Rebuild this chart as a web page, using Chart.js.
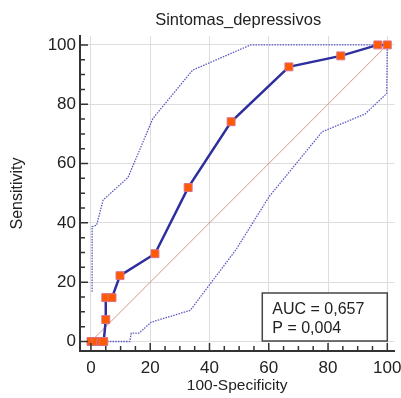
<!DOCTYPE html>
<html>
<head>
<meta charset="utf-8">
<script src="https://cdn.jsdelivr.net/npm/chart.js@4"></script>
<style>
  html, body { margin: 0; padding: 0; background: #fff; overflow: hidden; }
  #wrap { width: 401px; height: 398px; position: relative; }
  canvas { display: block; }
</style>
</head>
<body>
<div id="wrap"><canvas id="myChart"></canvas></div>
<script>
// ROC curve points (100-Specificity, Sensitivity)
const rocX = [0, 1.7, 3.3, 4.3, 5.0, 5.0, 7.1, 9.8, 21.6, 32.8, 47.3, 66.8, 84.3, 96.8, 100];
const rocY = [0, 0, 0, 0, 7.4, 14.8, 14.8, 22.2, 29.6, 51.9, 74.1, 92.6, 96.3, 100, 100];

// confidence bounds
const upperX = [0.4, 0.4, 1.9, 4.1, 12.5, 20.9, 34.3, 53.9, 100];
const upperY = [16.8, 38.7, 39.2, 47.7, 55.3, 75.2, 91.5, 100, 100];
const lowerX = [0, 13.1, 13.6, 16.2, 20.3, 33.5, 48.9, 60.1, 78, 92.5, 99.8, 100];
const lowerY = [0, 0, 2.8, 2.8, 6.5, 10.5, 30.9, 48.8, 70.7, 76.7, 83.6, 100];

const diagX = [0, 100];
const diagY = [0, 100];

const tickValues = [0, 5, 10, 15, 20, 25, 30, 35, 40, 45, 50, 55, 60, 65, 70, 75, 80, 85, 90, 95, 100];
const chartTitle = "Sintomas_depressivos";
const xTitle = "100-Specificity";
const yTitle = "Sensitivity";
const statsLines = ["AUC = 0,657", "P = 0,004"];

const FONT = "'Liberation Sans', Arial, sans-serif";

const toPoints = (xs, ys) => xs.map((x, i) => ({ x: x, y: ys[i] }));

const setTicks = (scale) => {
  scale.ticks = tickValues.map(v => ({ value: v, major: v % 20 === 0 }));
};

// title centred over the plot area
const titlePlugin = {
  id: "plotTitle",
  afterDraw(chart) {
    const { ctx, chartArea } = chart;
    ctx.save();
    ctx.font = "16.5px " + FONT;
    ctx.fillStyle = "#222";
    ctx.textAlign = "center";
    ctx.textBaseline = "middle";
    ctx.fillText(chartTitle, (chartArea.left + chartArea.right) / 2 + 1, 20);
    ctx.restore();
  }
};

// inward tick marks on both axes
const tickMarks = {
  id: "tickMarks",
  afterDraw(chart) {
    const { ctx, chartArea, scales } = chart;
    ctx.save();
    ctx.strokeStyle = "#333";
    ctx.lineWidth = 1.5;
    ctx.beginPath();
    tickValues.forEach(v => {
      const len = v % 20 === 0 ? 8 : 5;
      const px = scales.x.getPixelForValue(v);
      ctx.moveTo(px, chartArea.bottom);
      ctx.lineTo(px, chartArea.bottom - len);
      const py = scales.y.getPixelForValue(v);
      ctx.moveTo(chartArea.left, py);
      ctx.lineTo(chartArea.left + len, py);
    });
    ctx.stroke();
    ctx.restore();
  }
};

// AUC / P box, anchored to the 100 gridline
const statsBox = {
  id: "statsBox",
  afterDraw(chart) {
    const { ctx, chartArea, scales } = chart;
    const w = 125, h = 48;
    const right = scales.x.getPixelForValue(100);
    const bottom = chartArea.bottom - 10;
    ctx.save();
    ctx.fillStyle = "#fff";
    ctx.fillRect(right - w, bottom - h, w, h);
    ctx.strokeStyle = "#444";
    ctx.lineWidth = 1.5;
    ctx.strokeRect(right - w, bottom - h, w, h);
    ctx.font = "16px " + FONT;
    ctx.fillStyle = "#222";
    ctx.textAlign = "left";
    ctx.textBaseline = "alphabetic";
    statsLines.forEach((t, i) => {
      ctx.fillText(t, right - w + 10, bottom - h + 21 + i * 19);
    });
    ctx.restore();
  }
};

const ctx = document.getElementById("myChart").getContext("2d");
const chart = new Chart(ctx, {
  type: "line",
  data: {
    datasets: [
      {
        label: "ROC",
        data: toPoints(rocX, rocY),
        borderColor: "#2e2e9e",
        borderWidth: 2.5,
        pointStyle: "rect",
        pointRadius: 5.6,
        pointBackgroundColor: "#ff5a00",
        pointBorderColor: "#d9708a",
        pointBorderWidth: 1,
        order: 0
      },
      {
        label: "Upper",
        data: toPoints(upperX, upperY),
        borderColor: "#5a5ac4",
        borderWidth: 1.3,
        borderDash: [1.5, 1.2],
        pointRadius: 0,
        order: 1
      },
      {
        label: "Lower",
        data: toPoints(lowerX, lowerY),
        borderColor: "#5a5ac4",
        borderWidth: 1.3,
        borderDash: [1.5, 1.2],
        pointRadius: 0,
        order: 2
      },
      {
        label: "Diagonal",
        data: toPoints(diagX, diagY),
        borderColor: "#d2978e",
        borderWidth: 1,
        pointRadius: 0,
        order: 3
      }
    ]
  },
  options: {
    responsive: true,
    maintainAspectRatio: false,
    animation: false,
    layout: { padding: { top: 36, right: 3, left: 0, bottom: 0 } },
    plugins: {
      legend: { display: false },
      title: { display: false },
      tooltip: { enabled: false }
    },
    elements: { line: { tension: 0, fill: false } },
    scales: {
      x: {
        type: "linear",
        min: -3.7,
        max: 102.4,
        afterBuildTicks: setTicks,
        afterFit: (scale) => {
          scale.height = 47;
          scale.paddingLeft = 0;
          scale.paddingRight = 0;
        },
        ticks: {
          autoSkip: false,
          maxRotation: 0,
          padding: 7,
          color: "#222",
          font: { family: FONT, size: 17 },
          callback: (v) => (v % 20 === 0 ? v : "")
        },
        grid: {
          drawTicks: false,
          lineWidth: 1,
          color: (c) => (c.tick && c.tick.value % 20 === 0 ? "#dddddd" : "rgba(0,0,0,0)")
        },
        border: { display: true, color: "#333", width: 2 },
        title: {
          display: true,
          text: xTitle,
          color: "#222",
          font: { family: FONT, size: 15.5 },
          padding: { top: 0, bottom: 3 }
        }
      },
      y: {
        type: "linear",
        min: -3.2,
        max: 103,
        afterBuildTicks: setTicks,
        afterFit: (scale) => {
          scale.width = 80;
          scale.paddingTop = 0;
          scale.paddingBottom = 0;
        },
        ticks: {
          autoSkip: false,
          padding: 4,
          color: "#222",
          font: { family: FONT, size: 17 },
          callback: (v) => (v % 20 === 0 ? v : "")
        },
        grid: {
          drawTicks: false,
          lineWidth: 1,
          color: (c) => (c.tick && c.tick.value % 20 === 0 ? "#dddddd" : "rgba(0,0,0,0)")
        },
        border: { display: true, color: "#333", width: 2 },
        title: {
          display: true,
          text: yTitle,
          color: "#222",
          font: { family: FONT, size: 16 },
          padding: { top: 8, bottom: 0 }
        }
      }
    }
  },
  plugins: [titlePlugin, tickMarks, statsBox]
});
</script>
</body>
</html>
